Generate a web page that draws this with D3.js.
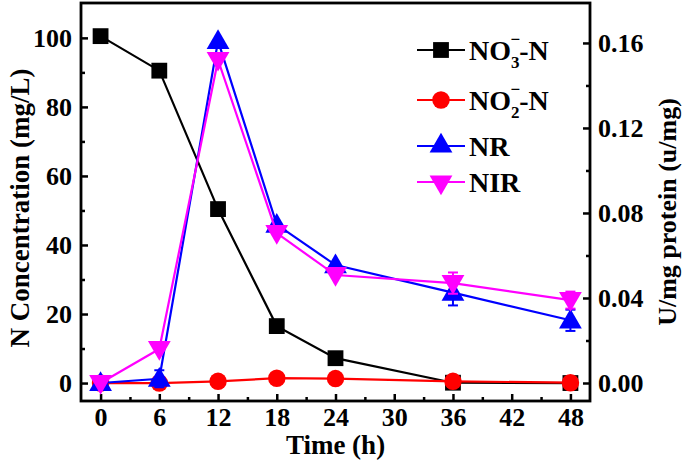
<!DOCTYPE html>
<html><head><meta charset="utf-8">
<script src="https://cdn.jsdelivr.net/npm/d3@7"></script>
<style>
body{margin:0;background:#fff;}
text{font-family:"Liberation Serif","Times New Roman",serif;font-weight:bold;}
</style></head>
<body><svg id="c" width="685" height="472"></svg>
<script>
const times = [0, 6, 12, 18, 24, 36, 48];
const no3 = [100.5, 90.5, 50.4, 16.5, 7.2, 0.1, 0.0];
const no2 = [0.0, 0.0, 0.5, 1.4, 1.3, 0.5, 0.1];
const nr = [0.000, 0.002, 0.161, 0.0745, 0.0555, 0.0425, 0.0295];
const nrErr = [0.001, 0.004, 0.001, 0.001, 0.001, 0.006, 0.005];
const nir = [0.000, 0.016, 0.152, 0.0705, 0.0508, 0.0470, 0.0390];
const nirErr = [0.001, 0.001, 0.001, 0.001, 0.001, 0.005, 0.004];
const xTicks = [0, 6, 12, 18, 24, 30, 36, 42, 48];
const yTicks = [0, 20, 40, 60, 80, 100];
const y2Ticks = [0, 0.04, 0.08, 0.12, 0.16];

const svg = d3.select("#c");
const L = 81, R = 590, T = 3, B = 401;
const x = d3.scaleLinear().domain([-2, 50]).range([L, R]);
const y = d3.scaleLinear().domain([-5.2, 110.1]).range([B, T]);
const y2 = d3.scaleLinear().domain([-0.00847, 0.1788]).range([B, T]);

const ax = svg.append("g").attr("transform", `translate(0,${B})`)
  .call(d3.axisBottom(x).tickValues(xTicks).tickSizeInner(-7).tickSizeOuter(0).tickPadding(7).tickFormat(d3.format("d")));
const axm = svg.append("g").attr("transform", `translate(0,${B})`)
  .call(d3.axisBottom(x).tickValues(d3.range(3, 48, 6)).tickSize(-4).tickFormat(""));
const ay = svg.append("g").attr("transform", `translate(${L},0)`)
  .call(d3.axisLeft(y).tickValues(yTicks).tickSizeInner(-7).tickSizeOuter(0).tickPadding(9).tickFormat(d3.format("d")));
const aym = svg.append("g").attr("transform", `translate(${L},0)`)
  .call(d3.axisLeft(y).tickValues(d3.range(10, 110, 20)).tickSize(-4).tickFormat(""));
const ay2 = svg.append("g").attr("transform", `translate(${R},0)`)
  .call(d3.axisRight(y2).tickValues(y2Ticks).tickSizeInner(-7).tickSizeOuter(0).tickPadding(8).tickFormat(d3.format(".2f")));
const ay2m = svg.append("g").attr("transform", `translate(${R},0)`)
  .call(d3.axisRight(y2).tickValues([0.02, 0.06, 0.10, 0.14]).tickSize(-4).tickFormat(""));
[ax, axm, ay, aym, ay2, ay2m].forEach(g => {
  g.select(".domain").remove();
  g.selectAll("line").attr("stroke", "#000").attr("stroke-width", 2.5);
  g.selectAll("text").attr("font-size", 26).attr("fill", "#000")
    .attr("font-family", "'Liberation Serif', serif").attr("font-weight", "bold");
});
ax.selectAll("text").attr("dy", "0.71em");

svg.append("rect").attr("x", L).attr("y", T).attr("width", R - L).attr("height", B - T)
  .attr("fill", "none").attr("stroke", "#000").attr("stroke-width", 2.8);

svg.append("text").attr("x", x(24)).attr("y", 454).attr("text-anchor", "middle")
  .attr("font-size", 27).text("Time (h)");
svg.append("text").attr("transform", `translate(29,208) rotate(-90)`)
  .attr("text-anchor", "middle").attr("font-size", 27).text("N Concentration (mg/L)");
svg.append("text").attr("transform", `translate(676,212) rotate(-90)`)
  .attr("text-anchor", "middle").attr("font-size", 26).text("U/mg protein (u/mg)");

const series = [
  {vals: no3, sc: y, color: "#000", sym: d3.symbolSquare, size: 250, rot: 0},
  {vals: no2, sc: y, color: "#ff0000", sym: d3.symbolCircle, size: 240, rot: 0},
  {vals: nr, err: nrErr, sc: y2, color: "#0000ff", sym: d3.symbolTriangle, size: 225, rot: 0},
  {vals: nir, err: nirErr, sc: y2, color: "#ff00ff", sym: d3.symbolTriangle, size: 225, rot: 180}
];
series.forEach(s => {
  const g = svg.append("g");
  const line = d3.line().x((d, i) => x(times[i])).y(d => s.sc(d));
  g.append("path").datum(s.vals).attr("d", line).attr("fill", "none")
    .attr("stroke", s.color).attr("stroke-width", 2.2);
  if (s.err) {
    s.vals.forEach((v, i) => {
      const e = s.err[i];
      if (e < 0.002) return;
      const cx = x(times[i]);
      g.append("line").attr("x1", cx).attr("x2", cx).attr("y1", s.sc(v - e)).attr("y2", s.sc(v + e))
        .attr("stroke", s.color).attr("stroke-width", 2);
      [v - e, v + e].forEach(w => g.append("line").attr("x1", cx - 5).attr("x2", cx + 5)
        .attr("y1", s.sc(w)).attr("y2", s.sc(w)).attr("stroke", s.color).attr("stroke-width", 2));
    });
  }
  g.selectAll("path.m").data(s.vals).enter().append("path").attr("class", "m")
    .attr("d", d3.symbol().type(s.sym).size(s.size))
    .attr("transform", (d, i) => `translate(${x(times[i])},${s.sc(d) + (s.rot ? -1.5 : 1.5) * (s.sym === d3.symbolTriangle ? 1 : 0)}) rotate(${s.rot})`)
    .attr("fill", s.color);
});

const leg = [
  {main: "NO", sub: "3", tail: "-N"},
  {main: "NO", sub: "2", tail: "-N"},
  {main: "NR"},
  {main: "NIR"}
];
const legY = [50, 100, 146, 182];
leg.forEach((l, i) => {
  const s = series[i];
  const yy = legY[i];
  svg.append("line").attr("x1", 417).attr("x2", 465).attr("y1", yy).attr("y2", yy)
    .attr("stroke", s.color).attr("stroke-width", 2.2);
  svg.append("path").attr("d", d3.symbol().type(s.sym).size(s.size))
    .attr("transform", `translate(441,${yy}) rotate(${s.rot})`).attr("fill", s.color);
  const t = svg.append("text").attr("x", 469).attr("y", yy + 10).attr("font-size", 28);
  t.append("tspan").text(l.main);
  if (l.sub) {
    t.append("tspan").attr("font-size", 17).attr("dy", 8).text(l.sub);
    t.append("tspan").attr("font-size", 17).attr("dx", -9).attr("dy", -23).text("\u2212");
    t.append("tspan").attr("font-size", 28).attr("dy", 15).attr("dx", -1).text(l.tail);
  }
});
</script></body></html>
